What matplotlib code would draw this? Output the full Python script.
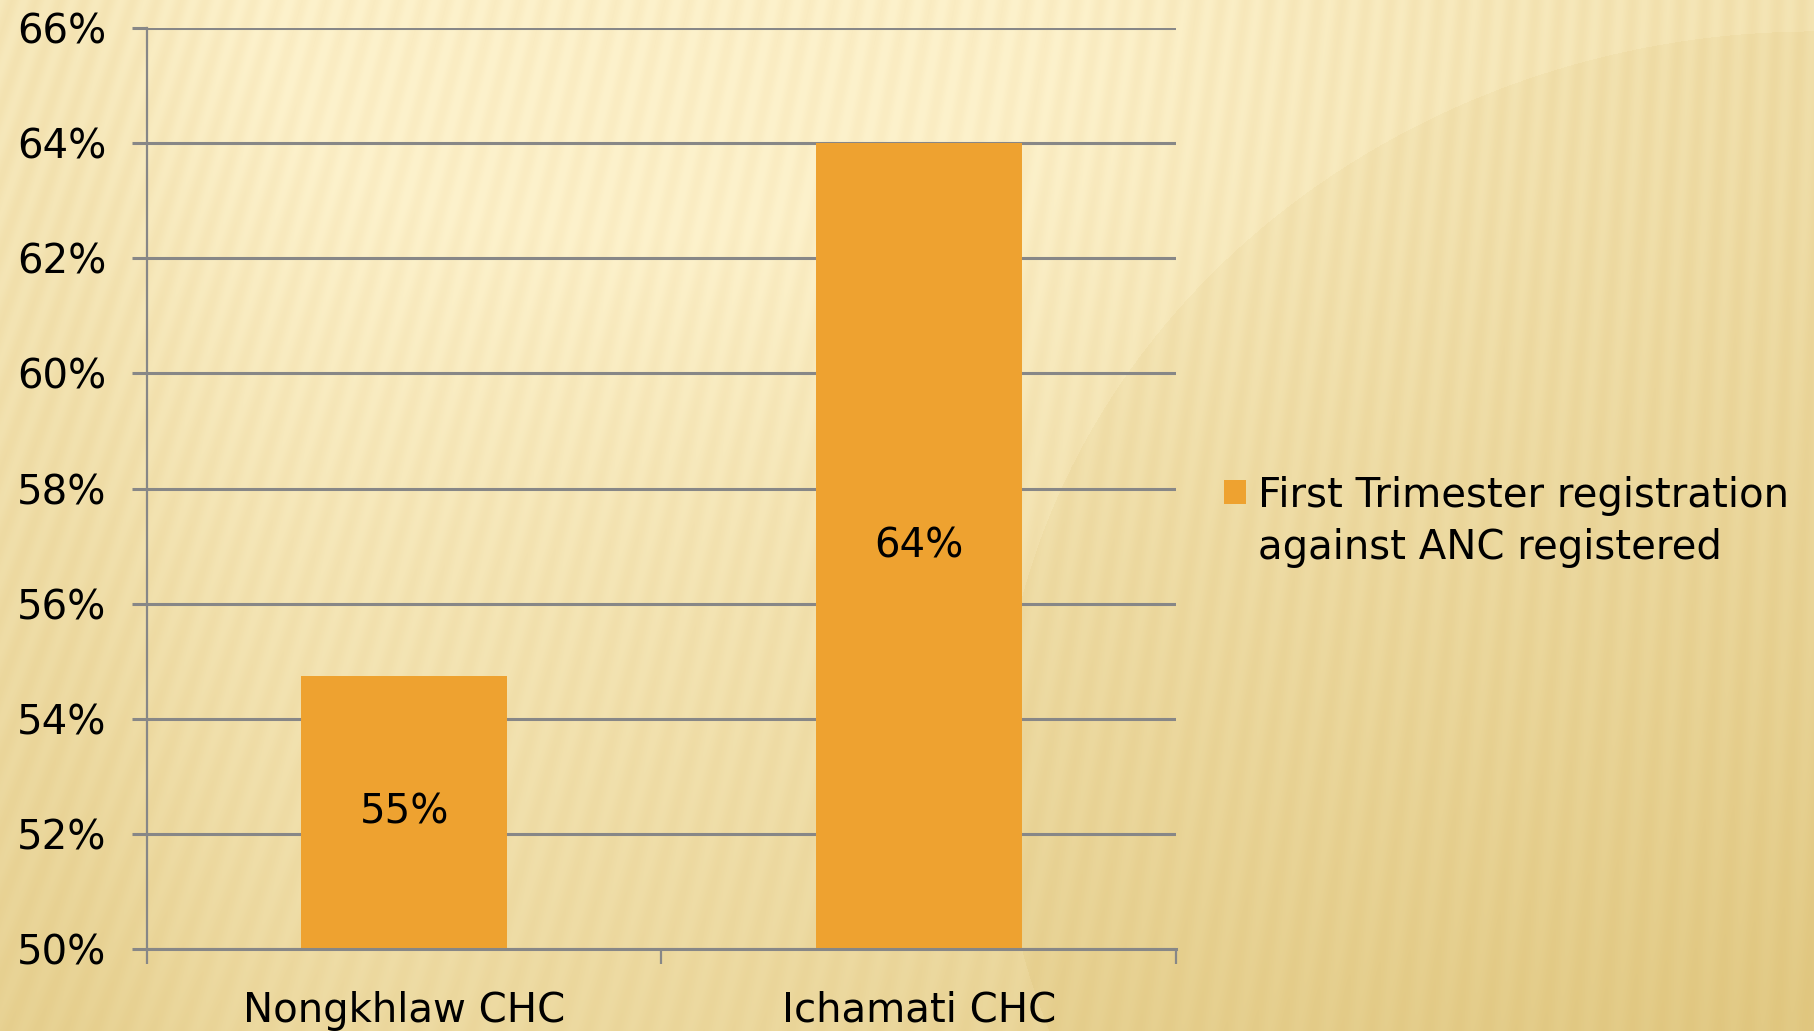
import numpy as np
import matplotlib.pyplot as plt
from matplotlib.patches import Patch
from matplotlib.ticker import FuncFormatter, FixedLocator

# data
categories = ['Nongkhlaw CHC', 'Ichamati CHC']
values = [0.5474, 0.64]
series_lines = ['First Trimester registration', 'against ANC registered']
yticks = [0.50, 0.52, 0.54, 0.56, 0.58, 0.60, 0.62, 0.64, 0.66]

bar_color = '#EEA230'
grid_color = '#878787'
fs = 29

W, H = 1815, 1031
fig = plt.figure(figsize=(W / 100, H / 100), dpi=100)

# background: warm gradient with faint slanted stripes
yy, xx = np.mgrid[0:H, 0:W].astype(float)
xn = xx / W
yn = yy / H
t = 0.55 * yn ** 1.3 + 0.35 * xn ** 1.5
t += 0.25 * np.exp(-((xn - 0.02) ** 2) / 0.01)  # darker left edge
t -= 0.2 * np.exp(-(((xn - 0.45) / 0.3) ** 2 + ((yn - 0.1) / 0.3) ** 2))
# big soft arc on the right
r = np.sqrt(((xn - 1.0) / 0.45) ** 2 + ((yn - 0.75) / 0.72) ** 2)
t += 0.12 * (r < 1.0)
t = np.clip(t, 0, 1)
light = np.array([253, 242, 204]) / 255
dark = np.array([226, 202, 133]) / 255
img = light[None, None, :] * (1 - t[..., None]) + dark[None, None, :] * t[..., None]
slant = 0.35 * (1 - xn) + 0.05
phase = (xx - slant * (H - yy)) / 29.0
stripe = 0.5 + 0.5 * np.sin(2 * np.pi * phase)
amp = 0.04 * (1 - 0.4 * yn)
img = img - amp[..., None] * stripe[..., None] * np.array([0.3, 0.6, 1.0])
img = np.clip(img, 0, 1)

ax_bg = fig.add_axes([0, 0, 1, 1], zorder=-1)
ax_bg.imshow(img, extent=[0, 1, 0, 1], aspect='auto', interpolation='bilinear')
ax_bg.axis('off')

ax = fig.add_axes([147 / W, 1 - 949 / H, (1176 - 147) / W, (949 - 28) / H])
ax.set_facecolor('none')

x = np.arange(len(categories))
bars = ax.bar(x, values, width=0.4, color=bar_color, zorder=2)
ax.bar_label(bars, labels=['{:.0%}'.format(v) for v in values], label_type='center',
             fontsize=fs, color='black')

ax.set_ylim(0.50, 0.66)
ax.set_xlim(-0.5, len(categories) - 0.5)
ax.yaxis.set_major_locator(FixedLocator(yticks))
ax.yaxis.set_major_formatter(FuncFormatter(lambda v, p: '{:.0%}'.format(v)))
ax.grid(axis='y', color=grid_color, linewidth=2.2, zorder=0)
ax.set_axisbelow(True)

ax.set_xticks(x)
ax.set_xticklabels(categories)
ax.xaxis.set_minor_locator(FixedLocator(np.arange(len(categories) + 1) - 0.5))
ax.tick_params(axis='x', which='major', length=0, pad=30, labelsize=fs)
ax.tick_params(axis='x', which='minor', length=11, width=1.6, color=grid_color, direction='out')
ax.tick_params(axis='y', length=11, width=2.2, color=grid_color, pad=18, labelsize=fs)

for s in ['top', 'right']:
    ax.spines[s].set_visible(False)
ax.spines['left'].set_color(grid_color)
ax.spines['left'].set_linewidth(1.6)
ax.spines['bottom'].set_color(grid_color)
ax.spines['bottom'].set_linewidth(2.2)

# legend: marker sits on the first line of the two-line label
handles = [Patch(facecolor=bar_color, edgecolor='none'), Patch(facecolor='none', edgecolor='none')]
fig.legend(handles, series_lines, loc='center left', bbox_to_anchor=(1204 / W, 1 - 522 / H),
           frameon=False, fontsize=fs, handlelength=0.55, handleheight=0.55,
           handletextpad=0.3, borderpad=0, labelspacing=0.32)

fig.savefig('out.png', dpi=100)
